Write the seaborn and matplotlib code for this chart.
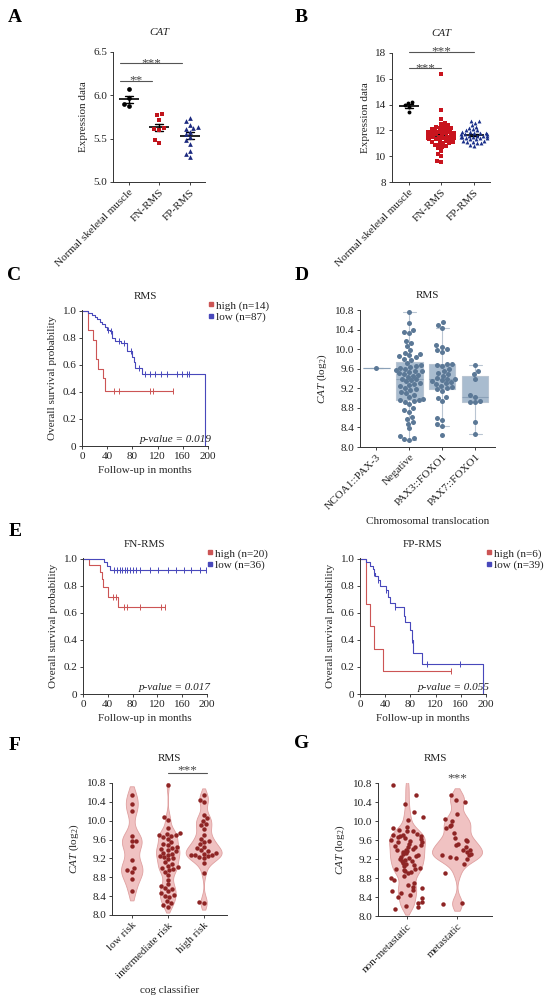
import numpy as np
import pandas as pd
import matplotlib.pyplot as plt
from matplotlib.lines import Line2D
import seaborn as sns

# ---------------- data ----------------
# A / B: CAT expression in two microarray sets
ab_groups = ["Normal skeletal muscle", "FN-RMS", "FP-RMS"]
a_normal = [6.07, 5.97, 5.90, 5.88]
a_fn = [5.79, 5.77, 5.72, 5.62, 5.61, 5.60, 5.48, 5.45]
a_fp = [5.74, 5.70, 5.66, 5.64, 5.62, 5.61, 5.58, 5.55, 5.52, 5.48, 5.44, 5.36, 5.32, 5.29]

b_normal = [14.20, 14.15, 13.95, 13.85, 13.40]
b_fn = [16.4, 13.6, 12.9, 12.6, 12.5, 12.4, 12.3, 12.3, 12.2, 12.2, 12.1, 12.1, 12.0,
        12.0, 11.9, 11.9, 11.9, 11.8, 11.8, 11.8, 11.7, 11.7, 11.7, 11.6, 11.6, 11.6,
        11.5, 11.5, 11.5, 11.4, 11.4, 11.4, 11.3, 11.3, 11.3, 11.2, 11.2, 11.1, 11.1,
        11.0, 11.0, 10.9, 10.9, 10.8, 10.7, 10.6, 10.4, 10.2, 10.0, 9.65, 9.55]
b_fp = [12.7, 12.7, 12.6, 12.4, 12.3, 12.2, 12.1, 12.0, 12.0, 11.9, 11.9, 11.8, 11.8,
        11.8, 11.7, 11.7, 11.7, 11.6, 11.6, 11.6, 11.6, 11.5, 11.5, 11.5, 11.4, 11.4,
        11.4, 11.3, 11.3, 11.2, 11.2, 11.1, 11.1, 11.0, 11.0, 10.9, 10.8]

# C: KM, all RMS
c_high_t = [0, 10, 18, 23, 25, 28, 33, 36, 145]
c_high_s = [1.0, 0.857, 0.786, 0.643, 0.571, 0.571, 0.50, 0.41, 0.41]
c_high_cens = [50, 59, 108, 112, 145]
c_low_t = [0, 10, 16, 20, 24, 28, 32, 36, 40, 44, 48, 52, 62, 72, 80, 82, 84, 96, 196]
c_low_s = [1.0, 0.985, 0.97, 0.955, 0.94, 0.92, 0.90, 0.88, 0.86, 0.85, 0.80, 0.775,
           0.76, 0.705, 0.66, 0.62, 0.58, 0.535, 0.0]
c_low_cens = [42, 46, 58, 66, 78, 90, 100, 108, 116, 125, 135, 150, 158, 166, 170]

# D: CAT by chromosomal translocation
d_groups = ["NCOA1::PAX-3", "Negative", "PAX3::FOXO1", "PAX7::FOXO1"]
d_ncoa1 = [9.62]
d_negative = [10.75, 10.54, 10.40, 10.36, 10.33, 10.16, 10.13, 10.06, 9.98, 9.92, 9.90,
              9.88, 9.85, 9.84, 9.80, 9.78, 9.72, 9.68, 9.66, 9.64, 9.62, 9.60, 9.58,
              9.56, 9.55, 9.54, 9.52, 9.50, 9.48, 9.46, 9.44, 9.40, 9.38, 9.36, 9.34,
              9.30, 9.28, 9.26, 9.24, 9.20, 9.18, 9.16, 9.12, 9.10, 9.06, 9.02, 8.98,
              8.97, 8.96, 8.94, 8.92, 8.88, 8.80, 8.75, 8.72, 8.62, 8.58, 8.52, 8.48,
              8.38, 8.22, 8.18, 8.16, 8.14]
d_pax3 = [10.55, 10.50, 10.43, 10.08, 10.05, 10.00, 9.98, 9.94, 9.70, 9.70, 9.68, 9.66,
          9.60, 9.56, 9.52, 9.50, 9.46, 9.42, 9.40, 9.38, 9.36, 9.34, 9.32, 9.30, 9.28,
          9.25, 9.22, 9.20, 9.18, 9.15, 9.02, 9.00, 8.95, 8.60, 8.56, 8.46, 8.42, 8.25]
d_pax7 = [9.68, 9.56, 9.50, 9.40, 9.06, 9.03, 8.93, 8.92, 8.91, 8.52, 8.27]

# E: KM, FN-RMS and FP-RMS
e1_high_t = [0, 10, 28, 30, 33, 40, 57, 132]
e1_high_s = [1.0, 0.95, 0.90, 0.85, 0.79, 0.72, 0.64, 0.64]
e1_high_cens = [48, 53, 66, 71, 92, 126, 132]
e1_low_t = [0, 34, 39, 44, 200]
e1_low_s = [1.0, 0.972, 0.944, 0.917, 0.917]
e1_low_cens = [50, 55, 59, 63, 68, 71, 75, 80, 85, 92, 108, 121, 137, 150, 163, 174, 188, 198]

e2_high_t = [0, 10, 16, 22, 36, 144]
e2_high_s = [1.0, 0.667, 0.5, 0.333, 0.167, 0.167]
e2_high_cens = [144]
e2_low_t = [0, 10, 16, 20, 22, 24, 28, 32, 42, 45, 47, 55, 70, 72, 80, 82, 84, 98, 195]
e2_low_s = [1.0, 0.974, 0.949, 0.923, 0.897, 0.872, 0.846, 0.80, 0.77, 0.72, 0.67,
            0.64, 0.58, 0.53, 0.47, 0.40, 0.30, 0.22, 0.0]
e2_low_cens = [23, 29, 42, 56, 83, 106, 158]

# F: CAT by COG risk group
f_groups = ["low risk", "intermediate risk", "high risk"]
f_low = [10.54, 10.36, 10.20, 9.67, 9.57, 9.57, 9.47, 9.16, 9.00, 8.95, 8.92, 8.76, 8.50]
f_inter = [10.75, 10.08, 10.02, 9.84, 9.75, 9.72, 9.70, 9.70, 9.68, 9.66, 9.62, 9.55,
           9.50, 9.48, 9.45, 9.42, 9.40, 9.38, 9.36, 9.32, 9.30, 9.28, 9.25, 9.22, 9.20,
           9.18, 9.12, 9.08, 9.05, 9.02, 9.00, 8.98, 8.95, 8.92, 8.85, 8.75, 8.65, 8.62,
           8.58, 8.55, 8.50, 8.46, 8.42, 8.40, 8.38, 8.30, 8.25, 8.22, 8.18]
f_high = [10.55, 10.45, 10.40, 10.12, 10.05, 10.00, 9.92, 9.90, 9.82, 9.70, 9.62, 9.58,
          9.55, 9.50, 9.45, 9.42, 9.38, 9.35, 9.32, 9.30, 9.28, 9.28, 9.27, 9.25, 9.22,
          9.20, 9.10, 8.90, 8.28, 8.25]

# G: CAT by metastatic status
g_groups = ["non-metastatic", "metastatic"]
g_non = [10.75, 10.55, 10.35, 10.20, 10.08, 10.02, 9.88, 9.85, 9.82, 9.80, 9.78, 9.72,
         9.70, 9.70, 9.68, 9.68, 9.66, 9.64, 9.62, 9.60, 9.58, 9.56, 9.55, 9.52, 9.50,
         9.48, 9.46, 9.45, 9.42, 9.40, 9.38, 9.36, 9.35, 9.32, 9.30, 9.28, 9.26, 9.25,
         9.22, 9.20, 9.18, 9.16, 9.15, 9.12, 9.10, 9.08, 9.05, 9.02, 9.00, 8.98, 8.96,
         8.95, 8.92, 8.90, 8.85, 8.80, 8.75, 8.70, 8.65, 8.62, 8.58, 8.55, 8.52, 8.48,
         8.45, 8.40, 8.38, 8.30, 8.28, 8.22, 8.18, 8.15]
g_met = [10.55, 10.45, 10.40, 10.15, 10.05, 10.00, 9.92, 9.90, 9.85, 9.75, 9.65, 9.60,
         9.58, 9.52, 9.50, 9.45, 9.40, 9.38, 9.35, 9.30, 9.28, 9.28, 9.25, 9.22, 9.20,
         9.10, 8.90, 8.28, 8.25]

# ---------------- style ----------------
sns.set_theme(style="ticks")
plt.rcParams["font.family"] = ["Liberation Serif", "DejaVu Serif"]
plt.rcParams["mathtext.fontset"] = "custom"
plt.rcParams["mathtext.rm"] = "Liberation Serif"
plt.rcParams["mathtext.it"] = "Liberation Serif:italic"
plt.rcParams["axes.linewidth"] = 0.7
plt.rcParams["axes.edgecolor"] = "#333333"
plt.rcParams["text.color"] = "#222222"

RED_KM, BLUE_KM = "#cc5555", "#4848bb"
FS = 8

W, H = 550, 997
fig = plt.figure(figsize=(5.5, 9.97), dpi=100)


def panel(l, t, r, b):
    return fig.add_axes([l / W, 1 - b / H, (r - l) / W, (b - t) / H])


def long_df(groups, series):
    return pd.concat([pd.DataFrame({"group": g, "value": v}) for g, v in zip(groups, series)],
                     ignore_index=True)


def style_ax(ax):
    sns.despine(ax=ax)
    ax.tick_params(labelsize=FS, length=2.5, width=0.6, pad=1.5, colors="#222222")


def rotate_labels(ax):
    plt.setp(ax.get_xticklabels(), rotation=45, ha="right", rotation_mode="anchor")


def sig(ax, x0, x1, y, text, dy=0):
    ax.plot([x0, x1], [y, y], color="#555555", lw=0.8, clip_on=False)
    ax.annotate(text, xy=((x0 + x1) / 2, y), xytext=(0, dy), textcoords="offset points",
                ha="center", va="baseline", fontsize=9.5, color="#444444",
                annotation_clip=False)


def surv_at(t, s, ct):
    idx = np.searchsorted(t, ct, side="right") - 1
    return np.asarray(s)[idx]


# ---------------- A & B: scatter with mean +/- SEM ----------------
def dot_panel(ax, series, colors, ylim, yticks, fmt, size):
    markers = ["o", "s", "^"]
    for g, v, m, c in zip(ab_groups, series, markers, colors):
        sns.swarmplot(data=pd.DataFrame({"group": g, "value": v}), x="group", y="value",
                      order=ab_groups, marker=m, color=c, size=size, ax=ax)
    sns.pointplot(data=long_df(ab_groups, series), x="group", y="value", order=ab_groups,
                  errorbar="se", color="black", marker="_", markersize=15,
                  markeredgewidth=1.2, linestyle="none", capsize=0.25,
                  err_kws={"linewidth": 1.0}, ax=ax)
    ax.set_xlim(-0.52, 2.5)
    ax.set_ylim(*ylim)
    ax.set_yticks(yticks)
    ax.set_yticklabels([fmt % t for t in yticks])
    ax.set_xlabel("")
    ax.set_ylabel("Expression data", fontsize=FS)
    ax.set_title("CAT", fontsize=FS, style="italic", pad=12)
    style_ax(ax)
    rotate_labels(ax)


ax_a = panel(113, 52, 205, 182)
dot_panel(ax_a, [a_normal, a_fn, a_fp], ["black", "#c0141c", "#1c2a80"],
          (5.0, 6.5), [5.0, 5.5, 6.0, 6.5], "%.1f", 3.4)
sig(ax_a, -0.3, 1.75, 6.37, "***", -2)
sig(ax_a, -0.3, 0.75, 6.17, "**", -2)

ax_b = panel(392, 53, 490, 182)
dot_panel(ax_b, [b_normal, b_fn, b_fp], ["black", "#c8141e", "#1a2f8a"],
          (8, 18), [8, 10, 12, 14, 16, 18], "%d", 2.8)
sig(ax_b, 0, 2, 18.08, "***", -2)
sig(ax_b, 0, 1, 16.8, "***", -2)


# ---------------- C & E: Kaplan-Meier ----------------
def km_panel(ax, title, curves, labels, pval):
    for t, s, cens, c in curves:
        sns.lineplot(x=t, y=s, drawstyle="steps-post", estimator=None, sort=False,
                     color=c, linewidth=0.8, ax=ax)
        sns.scatterplot(x=cens, y=surv_at(t, s, cens), marker="|", s=16, color=c,
                        linewidth=0.7, ax=ax)
    ax.set_xlim(0, 200)
    ax.set_ylim(0, 1.005)
    ax.set_xticks([0, 40, 80, 120, 160, 200])
    ax.set_yticks([0, 0.2, 0.4, 0.6, 0.8, 1.0])
    ax.set_yticklabels(["0", "0.2", "0.4", "0.6", "0.8", "1.0"])
    ax.set_xlabel("Follow-up in months", fontsize=FS)
    ax.set_ylabel("Overall survival probability", fontsize=FS)
    ax.set_title(title, fontsize=FS, pad=8)
    handles = [Line2D([0], [0], marker="s", ls="none", color=c, markersize=3.2, label=l)
               for (_, _, _, c), l in zip(curves, labels)]
    ax.legend(handles=handles, loc="upper left", bbox_to_anchor=(1.0, 1.07), frameon=False,
              fontsize=FS, handlelength=0.5, handletextpad=0.25, borderpad=0,
              borderaxespad=0, labelspacing=0.15)
    ax.text(1.03, 0.05, pval, transform=ax.transAxes, ha="right", va="center",
            fontsize=FS, style="italic")
    style_ax(ax)


ax_c = panel(82, 310, 208, 446)
km_panel(ax_c, "RMS",
         [(c_high_t, c_high_s, c_high_cens, RED_KM), (c_low_t, c_low_s, c_low_cens, BLUE_KM)],
         ["high (n=14)", "low (n=87)"], "p-value = 0.019")

ax_e1 = panel(83, 558, 207, 694)
km_panel(ax_e1, "FN-RMS",
         [(e1_high_t, e1_high_s, e1_high_cens, RED_KM), (e1_low_t, e1_low_s, e1_low_cens, BLUE_KM)],
         ["high (n=20)", "low (n=36)"], "p-value = 0.017")

ax_e2 = panel(360, 558, 486, 694)
km_panel(ax_e2, "FP-RMS",
         [(e2_high_t, e2_high_s, e2_high_cens, RED_KM), (e2_low_t, e2_low_s, e2_low_cens, BLUE_KM)],
         ["high (n=6)", "low (n=39)"], "p-value = 0.055")

# ---------------- D: box + swarm ----------------
ax_d = panel(360, 310, 495, 447)
df_d = long_df(d_groups, [d_ncoa1, d_negative, d_pax3, d_pax7])
sns.boxplot(data=df_d, x="group", y="value", order=d_groups, color="#a9bccf", saturation=1,
            width=0.8, showfliers=False, linewidth=0.8, linecolor="#b9c5d2",
            medianprops={"color": "#8ba1b8"}, ax=ax_d)
sns.swarmplot(data=df_d, x="group", y="value", order=d_groups, color="#5b7896", size=3.6,
              ax=ax_d)
cat_ticks = [8.0, 8.4, 8.8, 9.2, 9.6, 10.0, 10.4, 10.8]
ax_d.set_xlim(-0.5, 3.6)
ax_d.set_ylim(8.0, 10.8)
ax_d.set_yticks(cat_ticks)
ax_d.set_yticklabels(["%.1f" % t for t in cat_ticks])
ax_d.set_xlabel("Chromosomal translocation", fontsize=FS)
ax_d.set_ylabel(r"$\mathit{CAT}$ (log$_2$)", fontsize=FS)
ax_d.set_title("RMS", fontsize=FS, pad=9)
style_ax(ax_d)
rotate_labels(ax_d)


# ---------------- F & G: violin + points ----------------
def violin_panel(ax, groups, series, xlim, swarm=True):
    df = long_df(groups, series)
    sns.violinplot(data=df, x="group", y="value", order=groups, color="#f0c2c2",
                   saturation=1, inner=None, cut=1, bw_adjust=0.5, width=1.0,
                   linewidth=0.6, linecolor="#dfa0a0", density_norm="area", ax=ax)
    if swarm:
        sns.swarmplot(data=df, x="group", y="value", order=groups, color="#8e2424",
                      size=3.2, ax=ax)
    else:
        np.random.seed(7)
        sns.stripplot(data=df, x="group", y="value", order=groups, color="#8e2424",
                      size=3.2, jitter=0.33, ax=ax)
    ax.set_xlim(*xlim)
    ax.set_ylim(8.0, 10.8)
    ax.set_yticks(cat_ticks)
    ax.set_yticklabels(["%.1f" % t for t in cat_ticks])
    ax.set_ylabel(r"$\mathit{CAT}$ (log$_2$)", fontsize=FS)
    ax.set_title("RMS", fontsize=FS, pad=16)
    style_ax(ax)
    rotate_labels(ax)


ax_f = panel(112, 783, 227, 915)
violin_panel(ax_f, f_groups, [f_low, f_inter, f_high], (-0.55, 2.65))
ax_f.set_xlabel("cog classifier", fontsize=FS)
sig(ax_f, 1.0, 2.1, 11.01, "***")

ax_g = panel(378, 783, 492, 916)
violin_panel(ax_g, g_groups, [g_non, g_met], (-0.58, 1.7), swarm=False)
ax_g.set_xlabel("")
ax_g.annotate("***", xy=(1, 10.8), xytext=(0, 1), textcoords="offset points", ha="center",
              va="baseline", fontsize=9.5, color="#444444", annotation_clip=False)

# ---------------- panel letters ----------------
for letter, x, y in [("A", 15, 18), ("B", 301, 18), ("C", 14, 276), ("D", 302, 276),
                     ("E", 15, 532), ("F", 15, 745), ("G", 302, 743)]:
    fig.text(x / W, 1 - y / H, letter, fontsize=14, fontweight="bold", ha="center",
             va="center", color="black")

fig.savefig("out.png", dpi=100)
